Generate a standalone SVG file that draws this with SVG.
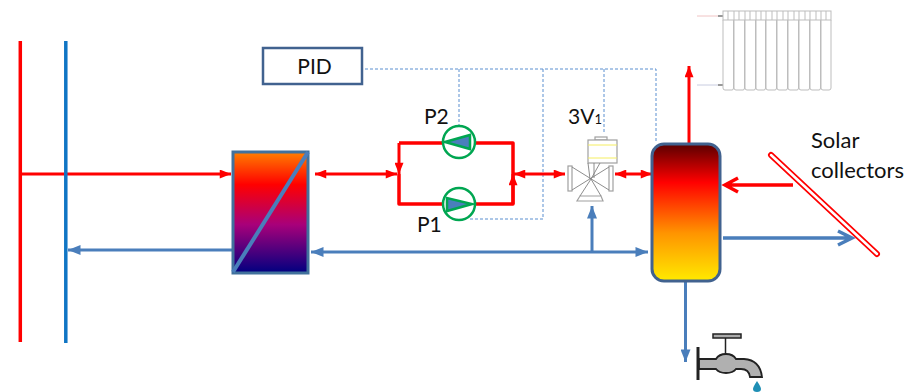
<svg xmlns="http://www.w3.org/2000/svg" width="906" height="392" viewBox="0 0 906 392">
<defs>
<linearGradient id="hx" x1="0" y1="0" x2="0" y2="1"><stop offset="0" stop-color="#ff7f00"/><stop offset=".27" stop-color="#ff0000"/><stop offset=".6" stop-color="#a8007a"/><stop offset="1" stop-color="#000080"/></linearGradient>
<linearGradient id="tank" x1="0" y1="0" x2="0" y2="1"><stop offset="0" stop-color="#5a0000"/><stop offset=".28" stop-color="#ff0000"/><stop offset=".65" stop-color="#ff9400"/><stop offset="1" stop-color="#ffea00"/></linearGradient>
<marker id="rh" viewBox="0 0 10 8" refX="10" refY="4" markerWidth="14" markerHeight="9" markerUnits="userSpaceOnUse" orient="auto-start-reverse"><path d="M0 0L10 4L0 8z" fill="#ff0000"/></marker>
<marker id="bh" viewBox="0 0 10 8" refX="10" refY="4" markerWidth="15" markerHeight="10" markerUnits="userSpaceOnUse" orient="auto-start-reverse"><path d="M0 0L10 4L0 8z" fill="#4a7ebb"/></marker>
</defs>
<style>
.r{stroke:#ff0000;stroke-width:3;fill:none}
.b{stroke:#4a7ebb;stroke-width:3;fill:none}
.d{stroke:#5b8fd0;stroke-width:1;stroke-dasharray:3 2;fill:none}
.t{font-family:"Lato","Open Sans",sans-serif;font-size:21px;fill:#111}
.v{fill:#fff;stroke:#a0a0a0;stroke-width:1.2}
.vl{stroke:#808080;stroke-width:.9;fill:none}
.rad{fill:none;stroke:#bdbdbd;stroke-width:1}
.pump{fill:#fff;stroke:#00a651;stroke-width:2.5}
.imp{fill:#4a7ebb;stroke:#00a651;stroke-width:2.5;stroke-linejoin:miter}
</style>
<g id="connectors">
<path class="d" d="M365 69H656V143M459 69V126M543 69V219H468M604 69V133"/>
<path class="r" d="M20.300 41V342" style="stroke-width:3.500"/>
<path class="r" d="M20 174H231" marker-end="url(#rh)"/>
<path class="b" d="M65.800 41V343" style="stroke:#0f75c4;stroke-width:3.500"/>
<path class="b" d="M232 250H68" marker-end="url(#bh)"/>
<path class="r" d="M315 174H397" marker-start="url(#rh)" marker-end="url(#rh)"/>
<path class="r" d="M399 143V174" marker-end="url(#rh)"/>
<path class="r" d="M399 143H513V174M399 174V204H513V174" stroke-linejoin="round" style="stroke-width:3.500"/>
<path class="r" d="M513 204V174" marker-end="url(#rh)"/>
<path class="r" d="M514 174H565" marker-start="url(#rh)" marker-end="url(#rh)"/>
<path class="r" d="M615 174H652" marker-start="url(#rh)" marker-end="url(#rh)"/>
<path class="b" d="M311 252H648" marker-start="url(#bh)" marker-end="url(#bh)"/>
<path class="b" d="M592 252V206" marker-end="url(#bh)"/>
<path class="r" d="M689 143V66" marker-end="url(#rh)"/>
<path class="r" d="M793 185H725M738 178L725 185L738 192" style="stroke-width:3.500"/>
<path class="b" d="M723 238H851M838 231L852 238L838 245" style="stroke-width:3.500"/>
<path class="b" d="M685.500 281V362" marker-end="url(#bh)"/>
</g>
<g id="exchanger">
<rect x="233" y="152" width="75" height="121" fill="url(#hx)" stroke="#41719c" stroke-width="3"/>
<path d="M308 152L233 272" stroke="#4a7ebb" stroke-width="4" fill="none"/>
</g>
<g id="pid">
<rect x="263" y="48" width="99" height="36" fill="#fff" stroke="#41628f" stroke-width="2.500"/>
<text class="t" x="314.500" y="74" text-anchor="middle">PID</text>
</g>
<g id="p2">
<circle class="pump" cx="459" cy="142" r="16"/>
<path class="imp" d="M445 142L470 135V149z"/>
<text class="t" x="424" y="124">P2</text>
</g>
<g id="p1">
<circle class="pump" cx="459" cy="204" r="16"/>
<path class="imp" d="M447 198V211L472 204z"/>
<text class="t" x="417" y="232">P1</text>
</g>
<g id="valve">
<rect class="v" x="595" y="137" width="12" height="3"/>
<rect class="v" x="588" y="140" width="29" height="23"/>
<path d="M588 145H617M588 158H617" stroke="#f5ee60" stroke-width="1"/>
<path class="vl" d="M588 163L590 179M594 163V178M600 163L591 179"/>
<rect class="v" x="568" y="166" width="4" height="25"/>
<rect class="v" x="609" y="166" width="4" height="25"/>
<path class="v" d="M580 196H601L603 201H577z"/>
<path class="vl" d="M572 167L609 190M572 190L609 167M580 196L591 179L601 196"/>
<text class="t" x="568" y="124">3V<tspan font-size="13">1</tspan></text>
</g>
<g id="tank-node">
<rect x="652" y="144" width="68" height="137" rx="12" fill="url(#tank)" stroke="#41628f" stroke-width="3"/>
</g>
<g id="collector">
<path d="M771 155L877 254" stroke="#ff0000" stroke-width="6" stroke-linecap="round" fill="none"/>
<path d="M771 155L877 254" stroke="#fff" stroke-width="2.500" stroke-linecap="round" fill="none"/>
<text class="t" x="811" y="148" style="font-size:22px">Solar</text>
<text class="t" x="811" y="178" style="font-size:22px">collectors</text>
</g>
<g id="radiator">
<path d="M697 16H720" stroke="#f0c4c4" stroke-width="1"/>
<path d="M697 85H720" stroke="#c8cce0" stroke-width="1"/>
<path d="M718 16H723M718 85H723" stroke="#999" stroke-width="2"/>
<rect class="rad" x="723" y="11" width="108" height="9"/>
<path class="rad" d="M723 20V88Q723 90 725 90H732Q733.500 90 733.500 88V20M734 20V88Q734 90 736 90H743Q744.500 90 744.500 88V20M745 20V88Q745 90 747 90H754Q755.500 90 755.500 88V20M756 20V88Q756 90 758 90H764Q765.500 90 765.500 88V20M766 20V88Q766 90 768 90H775Q776.500 90 776.500 88V20M777 20V88Q777 90 779 90H786Q787.500 90 787.500 88V20M788 20V88Q788 90 790 90H797Q798.500 90 798.500 88V20M799 20V88Q799 90 801 90H808Q809.500 90 809.500 88V20M810 20V88Q810 90 812 90H819Q820.500 90 820.500 88V20M821 20V88Q821 90 823 90H829Q831 90 831 88V20"/>
<path class="rad" d="M728 11V20M734 11V20M739 11V20M745 11V20M750 11V20M756 11V20M761 11V20M766 11V20M772 11V20M777 11V20M783 11V20M788 11V20M794 11V20M799 11V20M805 11V20M810 11V20M816 11V20M821 11V20M826 11V20"/>
</g>
<g id="faucet">
<path d="M698 347V380" stroke="#222" stroke-width="3"/>
<rect x="713" y="334" width="28" height="4" fill="#aaa" stroke="#222" stroke-width="1.500"/>
<path d="M725.500 338V355" stroke="#222" stroke-width="1.500"/>
<path d="M699 359H716Q719 354 726 354Q733 354 736 359H744Q760 360 762 377H750Q749 369 741 369H736Q733 373 726 373Q719 373 716 369H699z" fill="#b0b0b0" stroke="#222" stroke-width="1.800"/>
<path d="M757 381Q753 387 753 389Q753 392 757 392Q761 392 761 389Q761 387 757 381z" fill="#1f8fb5"/>
</g>
</svg>
